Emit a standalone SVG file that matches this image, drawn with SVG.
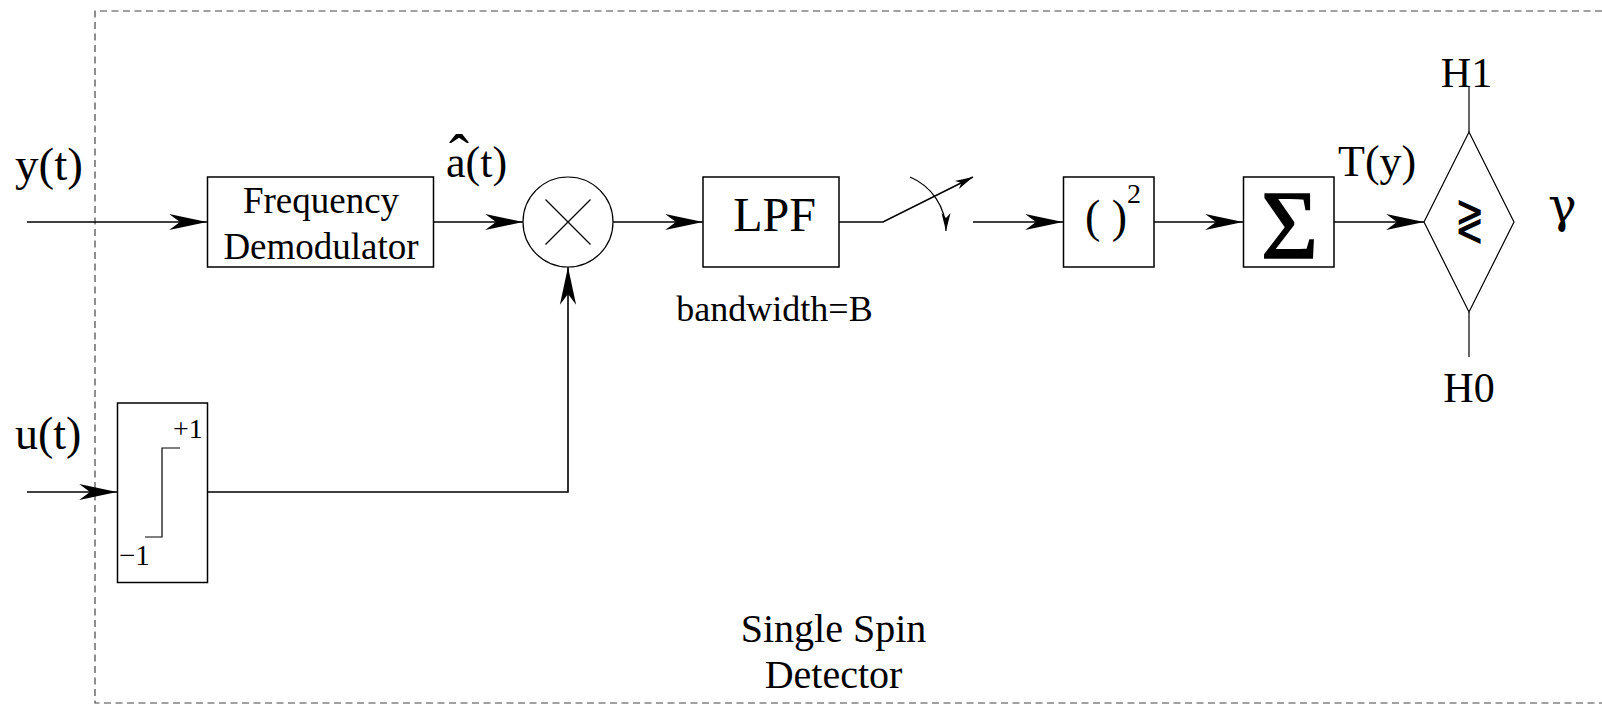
<svg xmlns="http://www.w3.org/2000/svg" width="1602" height="705" viewBox="0 0 1602 705">
<style>
text{font-family:"Liberation Serif","Times New Roman",serif;fill:#000}
.box{fill:#fff;stroke:#000;stroke-width:1.5}
.thin{fill:none;stroke:#000;stroke-width:1.2}
.con{fill:none;stroke:#000;stroke-width:1.6}
.frame{fill:none;stroke:#444;stroke-width:1.2;stroke-dasharray:7 4.5}
</style>
<defs>
<marker id="arr" markerUnits="userSpaceOnUse" markerWidth="40" markerHeight="20" viewBox="-36 -9 37 18" refX="0" refY="0" orient="auto"><path d="M0,0 L-35,-7.5 L-25,0 L-35,7.5 Z" fill="#000"/></marker>
<marker id="sarr" markerUnits="userSpaceOnUse" markerWidth="22" markerHeight="12" viewBox="-19 -6 20 12" refX="0" refY="0" orient="auto"><path d="M0,0 L-18,-4.5 L-13,0 L-18,4.5 Z" fill="#000"/></marker>
</defs>
<rect width="1602" height="705" fill="#fff"/>
<g id="frame">
<path class="frame" d="M1602,11 H95 V703 H1602"/>
<text x="833.5" y="641.7" font-size="40" text-anchor="middle">Single Spin</text>
<text x="833.5" y="687.7" font-size="40" text-anchor="middle">Detector</text>
</g>
<g id="connectors">
<path class="con" d="M27,222 H207" marker-end="url(#arr)"/>
<path class="con" d="M433,222 H523" marker-end="url(#arr)"/>
<path class="con" d="M613,222 H703" marker-end="url(#arr)"/>
<path class="con" d="M839,222 H883 L973,177" marker-end="url(#sarr)"/>
<path class="thin" d="M910,177 A58.5,58.5 0 0 1 946,231" marker-end="url(#sarr)"/>
<path class="con" d="M973,222 H1063" marker-end="url(#arr)"/>
<path class="con" d="M1154,222 H1243" marker-end="url(#arr)"/>
<path class="con" d="M1334,222 H1424" marker-end="url(#arr)"/>
<path class="thin" d="M1469,87 V132"/>
<path class="thin" d="M1469,312 V357"/>
<path class="con" d="M27,492 H117" marker-end="url(#arr)"/>
<path class="con" d="M207,492 H568 V267" marker-end="url(#arr)"/>
</g>
<g id="label-y">
<text x="15" y="180" font-size="47">y(t)</text>
</g>
<g id="label-u">
<text x="15" y="449" font-size="46">u(t)</text>
</g>
<g id="label-a">
<text font-size="44"><tspan x="459" y="175" font-size="60" text-anchor="middle">ˆ</tspan><tspan x="446" y="177">a(t)</tspan></text>
</g>
<g id="freq-demod">
<rect class="box" x="207.5" y="177" width="226" height="90"/>
<text x="321" y="212.5" font-size="37" text-anchor="middle">Frequency</text>
<text x="321" y="258.5" font-size="37" text-anchor="middle">Demodulator</text>
</g>
<g id="multiplier">
<circle class="thin" cx="568" cy="222" r="45"/>
<path class="thin" d="M545.5,199.5 L590.5,244.5 M590.5,199.5 L545.5,244.5"/>
</g>
<g id="lpf">
<rect class="box" x="703" y="177" width="136" height="90"/>
<text x="774.5" y="231" font-size="48" text-anchor="middle">LPF</text>
<text x="774.5" y="320.7" font-size="36" text-anchor="middle">bandwidth=B</text>
</g>
<g id="square">
<rect class="box" x="1063.5" y="177" width="90.5" height="90"/>
<text x="1085" y="232" font-size="46">( )</text>
<text x="1127" y="203" font-size="28">2</text>
</g>
<g id="sum">
<rect class="box" x="1243.5" y="177" width="90.5" height="90"/>
<text x="1289.5" y="258" font-size="98" text-anchor="middle" stroke="#000" stroke-width="1.6">Σ</text>
<text x="1338" y="176" font-size="44">T(y)</text>
</g>
<g id="decision">
<path class="thin" d="M1424,222 L1469,132 L1514,222 L1469,312 Z" fill="#fff"/>
<text transform="translate(1469,239) scale(0.8,1.3)" font-size="44" font-weight="200" text-anchor="middle" style="font-family:'DejaVu Sans',sans-serif">≷</text>
<text x="1466.5" y="87" font-size="42" text-anchor="middle">H1</text>
<text x="1469" y="401.7" font-size="42" text-anchor="middle">H0</text>
<text x="1548" y="222" font-size="48" style="font-family:'DejaVu Serif',serif">γ</text>
</g>
<g id="limiter">
<rect class="box" x="117.5" y="403" width="90" height="179.5"/>
<path class="thin" d="M145,537 H162 V448 H180"/>
<text x="173" y="438" font-size="28">+1</text>
<text x="119" y="565" font-size="29">−1</text>
</g>
</svg>
